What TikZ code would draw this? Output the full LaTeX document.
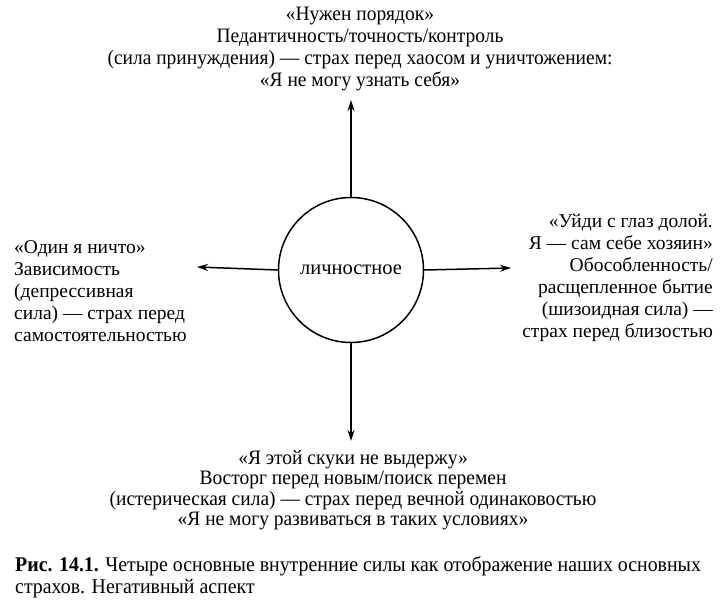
\documentclass[tikz,border=0pt]{standalone}
\usepackage{fontspec}
\setmainfont{Liberation Serif}
\newfontfamily\condfont[FakeStretch=0.95]{Liberation Serif}
\usetikzlibrary{arrows.meta}
\begin{document}
\begin{tikzpicture}[x=1pt, y=-1pt, line cap=round, line join=round]
% sizes taken from the scanned page, 1pt = 1px
\def\ringsz{145pt}
\providecommand{\forceLineWidth}{1.5pt}
\providecommand{\forceTextFont}{\condfont\fontsize{20.5}{22}\selectfont}
\providecommand{\lowTextFont}{\condfont\fontsize{20.5}{20.5}\selectfont}
\providecommand{\sideTextFont}{\fontsize{19.5}{22}\selectfont}
\tikzset{
  forcetext/.style={inner sep=0pt, font=\forceTextFont, align=center},
  sidetext/.style={inner sep=0pt, font=\sideTextFont},
  forcearrow/.style={line width=\forceLineWidth, -{Stealth[length=11pt, width=7pt]}},
}
\useasboundingbox[fill=white] (0,0) rectangle (727,602);
% Core
\node[circle, draw, line width=\forceLineWidth, minimum size=\ringsz, inner sep=0pt,
  font=\fontsize{20.5}{23}\selectfont] (core) at (351,270) {личностное};
% Arrow tips
\coordinate (tipN) at (351,100);
\coordinate (tipW) at (197,267);
\coordinate (tipE) at (511,268);
\coordinate (tipS) at (351,441);
% Four forces
\node[forcetext] (compulsive) at (360,49)
  {«Нужен порядок»\\
   Педантичность/точность/контроль\\
   (сила принуждения) — страх перед хаосом и уничтожением:\\
   «Я не могу узнать себя»};
\node[sidetext, align=left, anchor=west] (depressive) at (14,291)
  {«Один я ничто»\\
   Зависимость\\
   (депрессивная\\
   сила) — страх перед\\
   самостоятельностью};
\node[sidetext, align=right, anchor=east] (schizoid) at (713,278)
  {«Уйди с глаз долой.\\
   Я — сам себе хозяин»\\
   Обособленность/\\
   расщепленное бытие\\
   (шизоидная сила) —\\
   страх перед близостью};
\node[forcetext, font=\lowTextFont] (hysteric) at (353,490)
  {«Я этой скуки не выдержу»\\
   Восторг перед новым/поиск перемен\\
   (истерическая сила) — страх перед вечной одинаковостью\\
   «Я не могу развиваться в таких условиях»};
% Arrows
\draw[forcearrow] (core.north) -- (tipN);
\draw[forcearrow] (core.west) -- (tipW);
\draw[forcearrow] (core.east) -- (tipE);
\draw[forcearrow] (core.south) -- (tipS);
% Caption
\node[forcetext, align=left, anchor=north west, font=\condfont\fontsize{20.9}{22}\selectfont]
  (caption) at (15,556)
  {\textbf{Рис. 14.1.} Четыре основные внутренние силы как отображение наших основных\\
   страхов. Негативный аспект};
\end{tikzpicture}
\end{document}
